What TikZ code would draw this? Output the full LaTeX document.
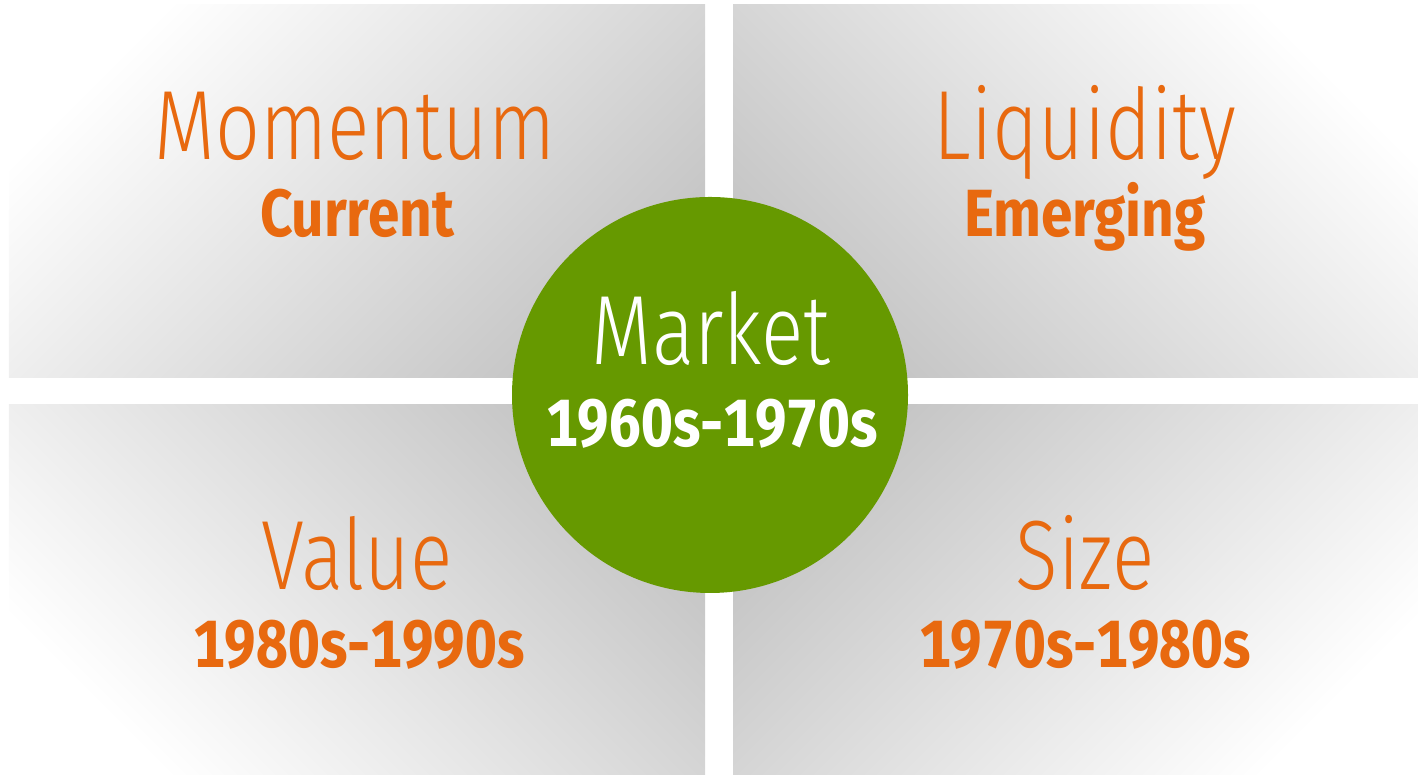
\documentclass[tikz,border=0pt]{standalone}
\usepackage{fontspec}
\setmainfont{Fira Sans}
\newfontfamily\thinfont[FakeStretch=0.8]{Fira Sans Light}
\newfontfamily\boldfont[FakeStretch=0.85, Numbers=Monospaced]{Fira Sans Bold}
\definecolor{eraorange}{HTML}{E8690F}
\definecolor{eragreen}{HTML}{669900}
\definecolor{panelgray}{gray}{0.77}

\begin{document}
\begin{tikzpicture}[x=1cm, y=1cm,
    factor/.style={anchor=base, text=eraorange, font=\thinfont\fontsize{28}{30}\selectfont, inner sep=0pt},
    era/.style={anchor=base, text=eraorange, font=\boldfont\fontsize{19}{21}\selectfont, inner sep=0pt}]

    \useasboundingbox (0,0) rectangle (14.18,7.75);

    % 四つのパネル（外側の角が白）
    \shade[top color=white, bottom color=panelgray, shading angle=45]
        (0.09,3.97) rectangle (7.05,7.70);
    \shade[top color=white, bottom color=panelgray, shading angle=-45]
        (7.33,3.97) rectangle (14.18,7.70);
    \shade[top color=white, bottom color=panelgray, shading angle=135]
        (0.09,0) rectangle (7.05,3.70);
    \shade[top color=white, bottom color=panelgray, shading angle=-135]
        (7.33,0) rectangle (14.18,3.70);

    % 中央の円
    \coordinate (O) at (7.10,3.80);
    \fill[eragreen] (O) circle (1.98);

    % ラベル
    \node[factor] (momentum) at (3.55,6.15) {Momentum};
    \node[era] (current) at (3.57,5.38) {Current};

    \node[factor] (liquidity) at (10.85,6.15) {Liquidity};
    \node[era] (emerging) at (10.85,5.38) {Emerging};

    \node[factor, text=white] (market) at (7.11,4.10) {Market};
    \node[era, text=white] (marketera) at (7.12,3.28) {1960s-1970s};

    \node[factor] (value) at (3.57,1.85) {Value};
    \node[era] (valueera) at (3.59,1.07) {1980s-1990s};

    \node[factor] (size) at (10.85,1.85) {Size};
    \node[era] (sizeera) at (10.85,1.07) {1970s-1980s};

\end{tikzpicture}
\end{document}
